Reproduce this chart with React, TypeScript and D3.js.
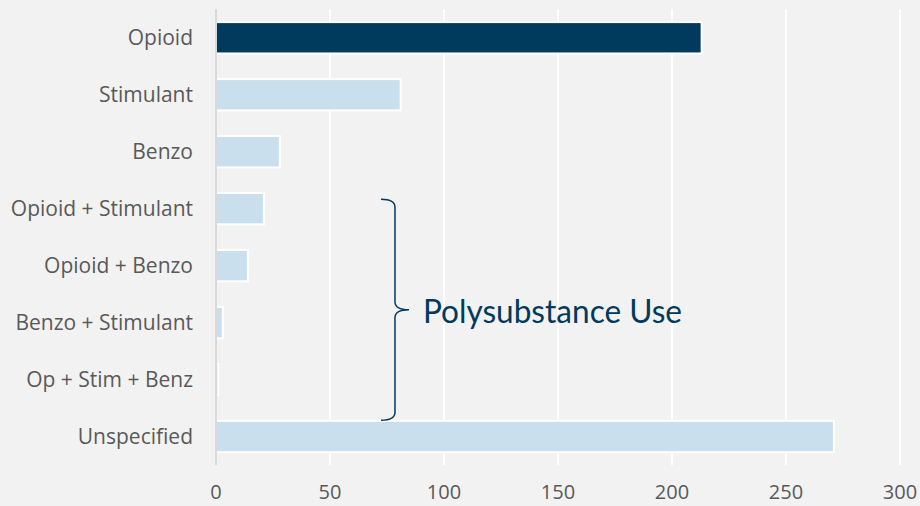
import * as d3 from "d3";
import React, { RefObject, useEffect, useRef } from "react";

const categories = [
  "Opioid",
  "Stimulant",
  "Benzo",
  "Opioid + Stimulant",
  "Opioid + Benzo",
  "Benzo + Stimulant",
  "Op + Stim + Benz",
  "Unspecified",
];
const counts = [213, 81, 28, 21, 14, 3, 1, 271];
const highlighted = ["Opioid"];
const xTicks = [0, 50, 100, 150, 200, 250, 300];
const polyGroup = ["Opioid + Stimulant", "Op + Stim + Benz"];
const polyLabel = "Polysubstance Use";

const width = 920;
const height = 506;

const App = () => {
  const d3Ref: RefObject<HTMLDivElement> = useRef(null);

  const drawChart = () => {
    const margin = { top: 9.3, right: 20, bottom: 41, left: 216 };
    const chartWidth = width - margin.left - margin.right;
    const chartHeight = height - margin.top - margin.bottom;

    d3.select(d3Ref.current).selectAll("*").remove();
    const svg = d3
      .select(d3Ref.current)
      .append("svg")
      .attr("width", width)
      .attr("height", height)
      .style("position", "absolute")
      .style("left", 0)
      .style("top", 0);

    svg
      .append("rect")
      .attr("width", width)
      .attr("height", height)
      .attr("fill", "#f2f2f2");

    const xScale = d3.scaleLinear().domain([0, 300]).range([0, chartWidth]);
    const yScale = d3
      .scaleBand<string>()
      .domain(categories)
      .range([0, chartHeight])
      .paddingInner(0.45)
      .paddingOuter(0.225);

    const g = svg
      .append("g")
      .attr("transform", `translate(${margin.left}, ${margin.top})`);

    // white gridlines
    g.selectAll("line.grid")
      .data(xTicks.filter((t) => t > 0))
      .enter()
      .append("line")
      .attr("class", "grid")
      .attr("x1", (d) => xScale(d))
      .attr("x2", (d) => xScale(d))
      .attr("y1", 0)
      .attr("y2", chartHeight)
      .attr("stroke", "#ffffff")
      .attr("stroke-width", 2);

    // bars
    g.selectAll("rect.bar")
      .data(categories)
      .enter()
      .append("rect")
      .attr("class", "bar")
      .attr("x", xScale(0))
      .attr("y", (d) => yScale(d) as number)
      .attr("width", (d, i) => xScale(counts[i]) - xScale(0))
      .attr("height", yScale.bandwidth())
      .attr("fill", (d) => (highlighted.includes(d) ? "#003a5d" : "#c9dfee"))
      .attr("stroke", "#ffffff")
      .attr("stroke-width", 2);

    // left axis line
    g.append("line")
      .attr("x1", xScale(0))
      .attr("x2", xScale(0))
      .attr("y1", 0)
      .attr("y2", chartHeight)
      .attr("stroke", "#d9d9d9")
      .attr("stroke-width", 2);

    // category labels
    g.selectAll("text.cat")
      .data(categories)
      .enter()
      .append("text")
      .attr("class", "cat")
      .attr("x", -23)
      .attr("y", (d) => (yScale(d) as number) + yScale.bandwidth() / 2)
      .attr("dy", "0.36em")
      .attr("text-anchor", "end")
      .attr("font-family", "'Open Sans', sans-serif")
      .attr("font-size", 21)
      .attr("fill", "#595959")
      .text((d) => d);

    // x tick labels
    g.selectAll("text.tick")
      .data(xTicks)
      .enter()
      .append("text")
      .attr("class", "tick")
      .attr("x", (d) => xScale(d))
      .attr("y", chartHeight + 34)
      .attr("text-anchor", "middle")
      .attr("font-family", "'Open Sans', sans-serif")
      .attr("font-size", 20)
      .attr("fill", "#595959")
      .text((d) => String(d));

    // brace annotation
    const braceX = xScale(78.5);
    const top = (yScale(polyGroup[0]) as number) + yScale.bandwidth() * 0.2;
    const bottom = (yScale(polyGroup[1]) as number) + yScale.step() - 0.5;
    const mid = (top + bottom) / 2;
    const hook = 14;
    const r = 8;
    const path = d3.path();
    path.moveTo(braceX - hook, top);
    path.quadraticCurveTo(braceX, top, braceX, top + r);
    path.lineTo(braceX, mid - r);
    path.quadraticCurveTo(braceX, mid, braceX + hook, mid);
    path.quadraticCurveTo(braceX, mid, braceX, mid + r);
    path.lineTo(braceX, bottom - r);
    path.quadraticCurveTo(braceX, bottom, braceX - hook, bottom);
    g.append("path")
      .attr("d", path.toString())
      .attr("fill", "none")
      .attr("stroke", "#003a5d")
      .attr("stroke-width", 1.5);

    g.append("text")
      .attr("x", braceX + 28)
      .attr("y", mid + 13)
      .attr("font-family", "Lato, sans-serif")
      .attr("font-size", 32)
      .attr("textLength", 259)
      .attr("lengthAdjust", "spacingAndGlyphs")
      .attr("fill", "#003a5d")
      .text(polyLabel);
  };

  useEffect(() => {
    drawChart();
  }, [d3Ref]);

  return <div ref={d3Ref} />;
};

export default App;
